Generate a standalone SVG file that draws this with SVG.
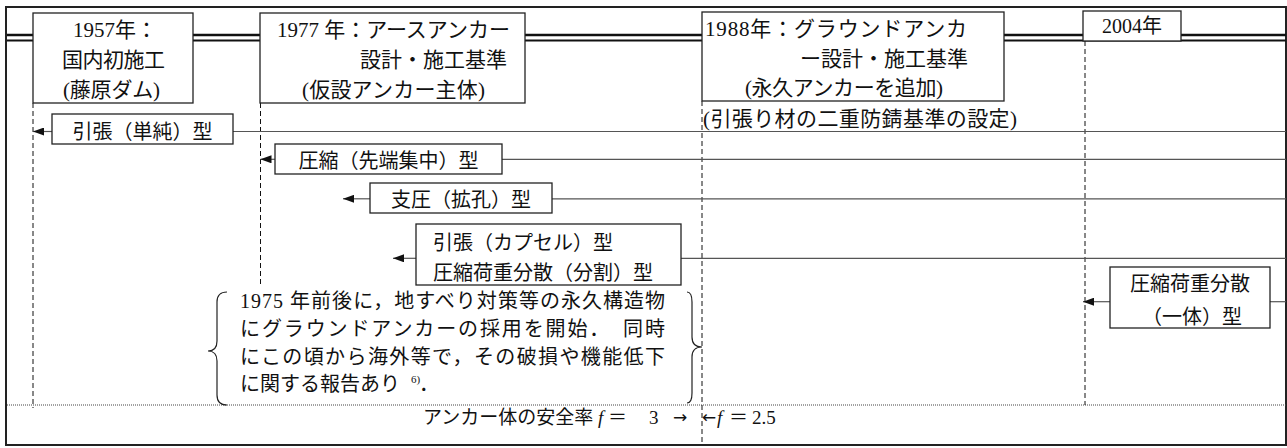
<svg xmlns="http://www.w3.org/2000/svg" width="1287" height="448" viewBox="0 0 1287 448">
<style>
text { font-family: "Liberation Serif", "Noto Sans CJK JP", serif; font-size: 20px; fill: #111; }
.t21 { font-size: 21px; }
.s19 { font-size: 19px; }
.ar { font-family: "DejaVu Sans", sans-serif; font-size: 17px; }
.sup { font-size: 11px; }
.box { fill: #fff; stroke: #222; stroke-width: 1.3; }
.dash { stroke: #111; stroke-width: 1; stroke-dasharray: 5 3; fill: none; }
.hl { stroke: #555; stroke-width: 1.2; fill: none; }
.arr { stroke: #555; stroke-width: 1.2; fill: none; marker-end: url(#ah); }
.brace { fill: none; stroke: #222; stroke-width: 1.2; }
.mid { text-anchor: middle; }
.it { font-style: italic; }
</style>
<defs>
<marker id="ah" markerUnits="userSpaceOnUse" markerWidth="11" markerHeight="8" refX="11" refY="4" orient="auto">
<path d="M0,0 L11,4 L0,8 z" fill="#111"/>
</marker>
</defs>
<rect x="6" y="7" width="1280" height="438" fill="#fff" stroke="#222" stroke-width="2"/>
<g id="timeline">
<line x1="7" y1="35" x2="1286" y2="35" stroke="#111" stroke-width="2.5"/>
<line x1="7" y1="40.5" x2="1286" y2="40.5" stroke="#111" stroke-width="1.8"/>
<line x1="7" y1="405" x2="1286" y2="405" stroke="#444" stroke-width="1" stroke-dasharray="1 1"/>
</g>
<g id="connectors">
<line class="dash" x1="33" y1="103" x2="33" y2="408"/>
<line class="dash" x1="260.5" y1="103" x2="260.5" y2="287"/>
<line class="dash" x1="702" y1="101" x2="702" y2="445"/>
<line class="dash" x1="1085" y1="41" x2="1085" y2="405"/>
<line class="arr" x1="52" y1="131.5" x2="33" y2="131.5"/>
<line class="hl" x1="233" y1="131.5" x2="1286" y2="131.5"/>
<line class="arr" x1="275" y1="159.3" x2="260.5" y2="159.3"/>
<line class="hl" x1="502" y1="159.3" x2="1286" y2="159.3"/>
<line class="arr" x1="370" y1="198.8" x2="343" y2="198.8"/>
<line class="hl" x1="552" y1="198.8" x2="1286" y2="198.8"/>
<line class="arr" x1="416" y1="258.3" x2="393" y2="258.3"/>
<line class="hl" x1="681" y1="258.3" x2="1286" y2="258.3"/>
<line class="arr" x1="1110" y1="301.7" x2="1083" y2="301.7"/>
<line class="hl" x1="1270" y1="301.7" x2="1286" y2="301.7"/>
</g>
<g id="y1957">
<rect class="box" x="33" y="13" width="160" height="90"/>
<text class="t21" x="73" y="37">1957年：</text>
<text class="t21" x="62" y="67" textLength="103" lengthAdjust="spacing">国内初施工</text>
<text class="t21" x="63" y="97" textLength="97" lengthAdjust="spacing">(藤原ダム)</text>
</g>
<g id="y1977">
<rect class="box" x="260" y="13" width="265" height="90"/>
<text class="t21" x="277" y="37" textLength="233" lengthAdjust="spacing">1977 年：アースアンカー</text>
<text class="t21" x="360" y="67" textLength="147" lengthAdjust="spacing">設計・施工基準</text>
<text class="t21" x="302" y="97" textLength="183" lengthAdjust="spacing">(仮設アンカー主体)</text>
</g>
<g id="y1988">
<rect class="box" x="702" y="12" width="302" height="89"/>
<text class="t21" x="705" y="36" textLength="262" lengthAdjust="spacing">1988年：グラウンドアンカ</text>
<text class="t21" x="800" y="66" textLength="168" lengthAdjust="spacing">ー設計・施工基準</text>
<text class="t21" x="745" y="95" textLength="198" lengthAdjust="spacing">(永久アンカーを追加)</text>
<text class="t21" x="703" y="126" textLength="314" lengthAdjust="spacing">(引張り材の二重防錆基準の設定)</text>
</g>
<g id="y2004">
<rect class="box" x="1083" y="11" width="98" height="30"/>
<text x="1102" y="33">2004年</text>
</g>
<g id="type-tension-simple">
<rect class="box" x="52" y="114" width="181" height="30"/>
<text class="mid" x="142.5" y="139">引張（単純）型</text>
</g>
<g id="type-compression-tip">
<rect class="box" x="275" y="144" width="227" height="30"/>
<text class="mid" x="388.5" y="168">圧縮（先端集中）型</text>
</g>
<g id="type-bearing">
<rect class="box" x="370" y="183" width="182" height="30"/>
<text class="mid" x="461" y="207">支圧（拡孔）型</text>
</g>
<g id="type-capsule-split">
<rect class="box" x="416" y="224" width="265" height="61"/>
<text x="433" y="250">引張（カプセル）型</text>
<text x="433" y="280">圧縮荷重分散（分割）型</text>
</g>
<g id="type-compression-integral">
<rect class="box" x="1110" y="267" width="160" height="61"/>
<text class="mid" x="1190" y="291">圧縮荷重分散</text>
<text x="1142" y="324">（一体）型</text>
</g>
<g id="note-1975">
<path class="brace" d="M227,292 Q217,292 217,302 L217,341 Q217,351 208,351 Q217,351 217,361 L217,395 Q217,405 227,405"/>
<path class="brace" d="M687,292 Q692,292 692,302 L692,337 Q692,347 702,347 Q692,347 692,357 L692,393 Q692,403 687,403"/>
<text x="240" y="308" textLength="425" lengthAdjust="spacing">1975 年前後に，地すべり対策等の永久構造物</text>
<text x="240" y="336" textLength="425" lengthAdjust="spacing">にグラウンドアンカーの採用を開始．　同時</text>
<text x="240" y="364" textLength="425" lengthAdjust="spacing">にこの頃から海外等で，その破損や機能低下</text>
<text x="240" y="391">に関する報告あり<tspan class="sup" x="411" dy="-8">6)</tspan><tspan x="419" dy="8">．</tspan></text>
</g>
<g id="safety-factor">
<text class="s19" x="423" y="424">アンカー体の安全率</text>
<text class="s19 it" x="598" y="424">f</text>
<text class="s19" x="608" y="424">＝</text>
<text class="s19" x="649" y="424">3</text>
<text class="ar" x="673" y="423">→</text>
<text class="ar" x="702" y="423">←</text>
<text class="s19 it" x="717" y="424">f</text>
<text class="s19" x="729" y="424">＝</text>
<text class="s19" x="752" y="424">2.5</text>
</g>
</svg>
